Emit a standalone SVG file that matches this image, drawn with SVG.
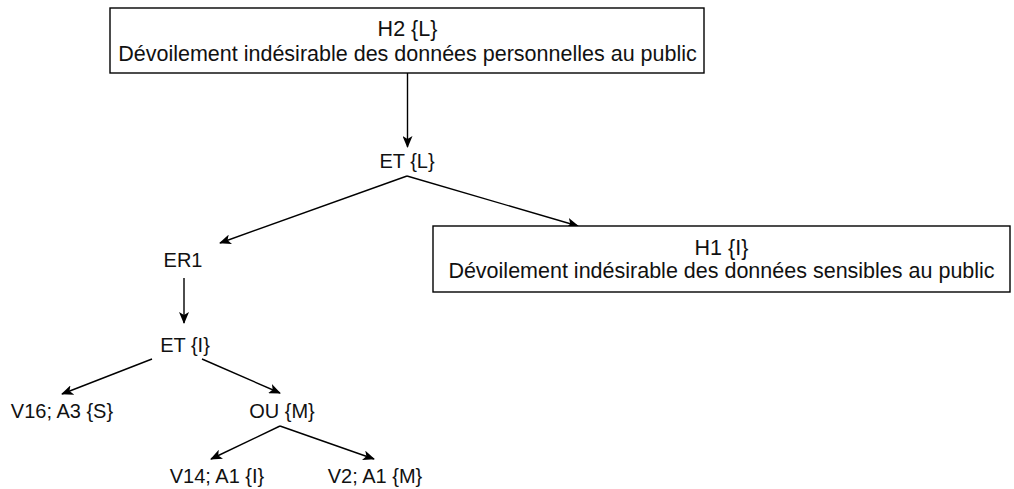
<svg xmlns="http://www.w3.org/2000/svg" width="1014" height="489" viewBox="0 0 1014 489">
<style>
text{font-family:"Liberation Sans",Arial,sans-serif;font-size:20px;fill:#111;text-anchor:middle}
text.big{font-size:21.5px}
.box{fill:#fff;stroke:#000;stroke-width:1.4}
.edge{stroke:#000;stroke-width:1.4;fill:none;marker-end:url(#ah)}
</style>
<defs>
<marker id="ah" viewBox="0 0 12 10" refX="11" refY="5" markerWidth="12" markerHeight="10" markerUnits="userSpaceOnUse" orient="auto">
<path d="M0,0 L12,5 L0,10 L3,5 z" fill="#000"/>
</marker>
</defs>
<rect width="1014" height="489" fill="#fff"/>
<g id="connectors">
<path class="edge" d="M407.5,73 L407.5,147"/>
<path class="edge" d="M407,176 L220,243"/>
<path class="edge" d="M407,176 L578,226"/>
<path class="edge" d="M184,278 L184,323"/>
<path class="edge" d="M152,359 L62,394"/>
<path class="edge" d="M202,359 L280,393"/>
<path class="edge" d="M280,426 L211,459"/>
<path class="edge" d="M280,426 L374,459"/>
</g>
<g id="H2">
<rect class="box" x="110" y="8" width="594" height="65"/>
<text class="big" x="407.5" y="36">H2 {L}</text>
<text class="big" x="407.5" y="61">Dévoilement indésirable des données personnelles au public</text>
</g>
<g id="ETL"><text x="407" y="168">ET {L}</text></g>
<g id="H1">
<rect class="box" x="433" y="226" width="577" height="66"/>
<text class="big" x="721.5" y="255">H1 {I}</text>
<text class="big" x="721.5" y="278">Dévoilement indésirable des données sensibles au public</text>
</g>
<g id="ER1"><text x="183" y="267">ER1</text></g>
<g id="ETI"><text x="185" y="352">ET {I}</text></g>
<g id="V16"><text x="62" y="418">V16; A3 {S}</text></g>
<g id="OU"><text x="282" y="418">OU {M}</text></g>
<g id="V14"><text x="217" y="483">V14; A1 {I}</text></g>
<g id="V2"><text x="375" y="483">V2; A1 {M}</text></g>
</svg>
